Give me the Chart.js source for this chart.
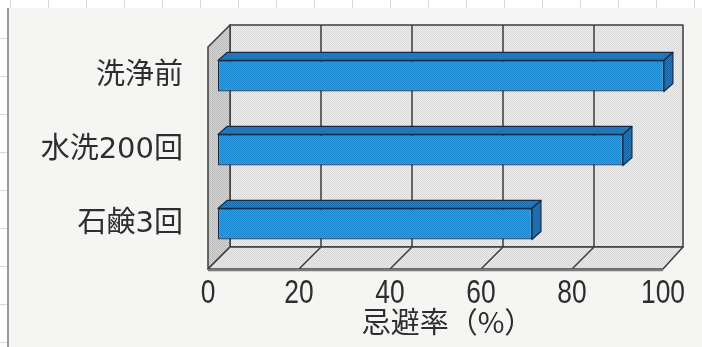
<!DOCTYPE html>
<html>
<head>
<meta charset="utf-8">
<script src="https://cdn.jsdelivr.net/npm/chart.js@4/dist/chart.umd.min.js"></script>
<style>
  html, body { margin: 0; padding: 0; background: #ffffff; }
  #wrap { width: 702px; height: 347px; position: relative; }
</style>
</head>
<body>
<div id="wrap"><canvas id="repellent-chart" width="702" height="347"></canvas></div>
<script>
const categories = ['洗浄前', '水洗200回', '石鹸3回'];
const repellentRate = [98, 89, 69];
const xTicks = [0, 20, 40, 60, 80, 100];
const axisTitle = '忌避率（%）';

const WALL_DX = 22, WALL_DY = -22;   // back wall offset from the front plane
const BAR_DX = 10, BAR_DY = -8;      // bar front face offset
const DEPTH_DX = 9, DEPTH_DY = -8;   // bar depth

function dither(c1, c2) {
    const p = document.createElement('canvas');
    p.width = 2; p.height = 2;
    const g = p.getContext('2d');
    g.fillStyle = c1; g.fillRect(0, 0, 2, 2);
    g.fillStyle = c2; g.fillRect(0, 0, 1, 1); g.fillRect(1, 1, 1, 1);
    return g.createPattern(p, 'repeat');
}

const canvas = document.getElementById('repellent-chart');
const wallFill = dither('#ebebeb', '#dbdbdb');
const sideFill = dither('#d2d2d2', '#bdbdbd');
const floorFill = dither('#e8e8e8', '#d8d8d8');
const barFront = dither('#2a9ee2', '#1b88d2');
const barTop = dither('#2480c4', '#1a6fb0');
const barSide = dither('#1f78bc', '#1766a6');

const backdrop = {
    id: 'backdrop',
    beforeDraw(chart) {
        const ctx = chart.ctx;
        ctx.save();
        ctx.fillStyle = '#ffffff';
        ctx.fillRect(0, 0, chart.width, chart.height);
        // spreadsheet cells peeking round the edge
        ctx.strokeStyle = '#d8d8d8';
        ctx.lineWidth = 1;
        for (let x = 10; x < chart.width; x += 38) {
            ctx.beginPath(); ctx.moveTo(x + 0.5, 0); ctx.lineTo(x + 0.5, 8); ctx.stroke();
        }
        for (let y = 38; y < chart.height; y += 38) {
            ctx.beginPath(); ctx.moveTo(0, y + 0.5); ctx.lineTo(7, y + 0.5); ctx.stroke();
        }
        ctx.fillStyle = '#f5f5f3';
        ctx.fillRect(8, 8, chart.width - 8, chart.height - 8);
        ctx.fillStyle = '#9a9a9a';
        ctx.fillRect(7, 8, 2, chart.height - 8);
        ctx.restore();
    }
};

const box3d = {
    id: 'box3d',
    beforeDatasetsDraw(chart) {
        const ctx = chart.ctx;
        const { left, right, top, bottom } = chart.chartArea;
        const xs = chart.scales.x;
        ctx.save();
        ctx.lineJoin = 'round';
        ctx.strokeStyle = '#3c3c3c';
        ctx.lineWidth = 1.5;

        // back wall
        ctx.fillStyle = wallFill;
        ctx.fillRect(left + WALL_DX, top + WALL_DY, right - left - 2, bottom - top);
        ctx.strokeRect(left + WALL_DX, top + WALL_DY, right - left - 2, bottom - top);

        // left side wall
        ctx.beginPath();
        ctx.moveTo(left, top);
        ctx.lineTo(left + WALL_DX, top + WALL_DY);
        ctx.lineTo(left + WALL_DX, bottom + WALL_DY);
        ctx.lineTo(left, bottom);
        ctx.closePath();
        ctx.fillStyle = sideFill;
        ctx.fill();
        ctx.stroke();

        // floor
        ctx.beginPath();
        ctx.moveTo(left, bottom);
        ctx.lineTo(left + WALL_DX, bottom + WALL_DY);
        ctx.lineTo(right + WALL_DX - 2, bottom + WALL_DY);
        ctx.lineTo(right, bottom);
        ctx.closePath();
        ctx.fillStyle = floorFill;
        ctx.fill();
        ctx.stroke();

        // grid lines on back wall and floor
        xTicks.slice(1, -1).forEach(v => {
            const x = xs.getPixelForValue(v);
            ctx.beginPath();
            ctx.moveTo(x + WALL_DX, top + WALL_DY);
            ctx.lineTo(x + WALL_DX, bottom + WALL_DY);
            ctx.lineTo(x, bottom);
            ctx.stroke();
        });

        // front edge of floor
        ctx.strokeStyle = '#7a7a7a';
        ctx.lineWidth = 2.5;
        ctx.beginPath();
        ctx.moveTo(left, bottom + 1);
        ctx.lineTo(right, bottom + 1);
        ctx.stroke();
        ctx.restore();

        ctx.save();
        ctx.translate(BAR_DX, BAR_DY);
    },
    afterDatasetsDraw(chart) {
        const ctx = chart.ctx;
        ctx.restore();
        ctx.save();
        ctx.strokeStyle = '#152c48';
        ctx.lineWidth = 1.2;
        ctx.lineJoin = 'round';
        chart.getDatasetMeta(0).data.forEach(bar => {
            const { x, y, base, height } = bar.getProps(['x', 'y', 'base', 'height'], true);
            const x0 = base + BAR_DX, x1 = x + BAR_DX;
            const y0 = y - height / 2 + BAR_DY, y1 = y + height / 2 + BAR_DY;
            // top face
            ctx.beginPath();
            ctx.moveTo(x0, y0);
            ctx.lineTo(x0 + DEPTH_DX, y0 + DEPTH_DY);
            ctx.lineTo(x1 + DEPTH_DX, y0 + DEPTH_DY);
            ctx.lineTo(x1, y0);
            ctx.closePath();
            ctx.fillStyle = barTop;
            ctx.fill();
            ctx.stroke();
            // end face
            ctx.beginPath();
            ctx.moveTo(x1, y0);
            ctx.lineTo(x1 + DEPTH_DX, y0 + DEPTH_DY);
            ctx.lineTo(x1 + DEPTH_DX, y1 + DEPTH_DY);
            ctx.lineTo(x1, y1);
            ctx.closePath();
            ctx.fillStyle = barSide;
            ctx.fill();
            ctx.stroke();
        });
        ctx.restore();
    }
};

// narrow digits under the floor and the axis title, placed with the x scale
const xAxisText = {
    id: 'xAxisText',
    afterDraw(chart) {
        const ctx = chart.ctx;
        const xs = chart.scales.x;
        const bottom = chart.chartArea.bottom;
        ctx.save();
        ctx.fillStyle = '#2e2e2e';
        ctx.font = '33px "Liberation Sans", "Noto Sans", sans-serif';
        ctx.textAlign = 'center';
        ctx.textBaseline = 'alphabetic';
        xTicks.forEach(v => {
            ctx.save();
            ctx.translate(xs.getPixelForValue(v), bottom + 34);
            ctx.scale(0.8, 1);
            ctx.fillText(String(v), 0, 0);
            ctx.restore();
        });
        ctx.font = '29px "Noto Sans CJK JP", sans-serif';
        ctx.textBaseline = 'middle';
        ctx.fillText(axisTitle, (xs.left + xs.right) / 2 + 12, bottom + 53);
        ctx.restore();
    }
};

new Chart(canvas, {
    type: 'bar',
    data: {
        labels: categories,
        datasets: [{
            label: axisTitle,
            data: repellentRate,
            backgroundColor: barFront,
            borderColor: '#152c48',
            borderWidth: 1.2,
            borderSkipped: false,
            categoryPercentage: 1,
            barPercentage: 0.42
        }]
    },
    options: {
        indexAxis: 'y',
        responsive: false,
        animation: false,
        layout: { padding: { top: 47, right: 39, left: 0, bottom: 0 } },
        plugins: {
            legend: { display: false },
            tooltip: { enabled: false }
        },
        scales: {
            x: {
                min: 0,
                max: 100,
                afterBuildTicks: scale => { scale.ticks = xTicks.map(v => ({ value: v })); },
                grid: { display: false, drawTicks: false },
                border: { display: false },
                ticks: { display: false },
                afterFit: scale => { scale.height = 78; }
            },
            y: {
                grid: { display: false, drawTicks: false },
                border: { display: false },
                ticks: {
                    padding: 25,
                    labelOffset: -8,
                    color: '#2e2e2e',
                    font: { family: '"DejaVu Sans", "Noto Sans CJK JP", sans-serif', size: 29 }
                },
                afterFit: scale => { scale.width = 208; }
            }
        }
    },
    plugins: [backdrop, box3d, xAxisText]
});
</script>
</body>
</html>
